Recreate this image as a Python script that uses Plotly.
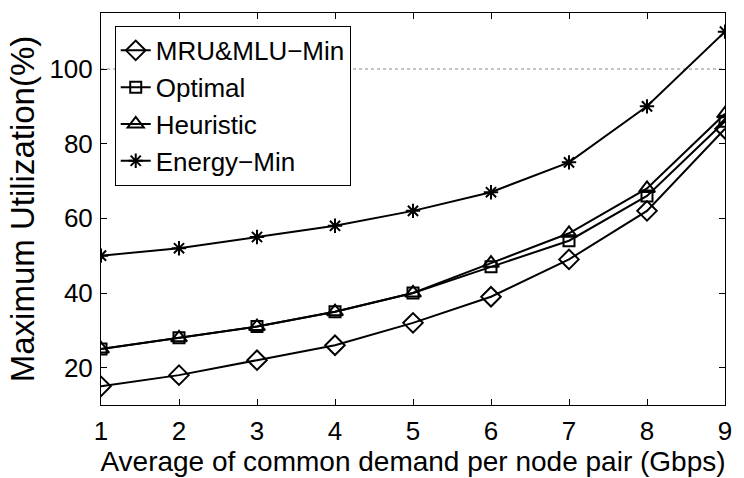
import plotly.graph_objects as go

demand = [1, 2, 3, 4, 5, 6, 7, 8, 9]
mru_mlu_min = [15, 18, 22, 26, 32, 39, 49, 62, 84]
optimal = [25, 28, 31, 35, 40, 47, 54, 66, 86]
heuristic = [25, 28, 31, 35, 40, 48, 56, 68, 88]
energy_min = [50, 52, 55, 58, 62, 67, 75, 90, 110]
ref_level = 100
y_ticks = [20, 40, 60, 80, 100]

FONT = "Liberation Sans, Arial, sans-serif"

fig = go.Figure()

fig.add_trace(go.Scatter(
    x=[demand[0], demand[-1]], y=[ref_level, ref_level], mode="lines",
    line=dict(color="#888888", width=1, dash="dot"), showlegend=False, hoverinfo="skip"))

series = [
    ("MRU&MLU\u2212Min", mru_mlu_min, "diamond-open", 15),
    ("Optimal", optimal, "square-open", 11),
    ("Heuristic", heuristic, "triangle-up-open", 14),
    ("Energy\u2212Min", energy_min, "asterisk-open", 12),
]
for name, vals, sym, sz in series:
    fig.add_trace(go.Scatter(
        x=demand, y=vals, mode="lines+markers", name=name,
        line=dict(color="black", width=2),
        marker=dict(symbol=sym, size=sz, color="black", line=dict(color="black", width=2))))

axis_common = dict(
    showgrid=False, zeroline=False, showline=True, linecolor="black", linewidth=1,
    mirror="ticks", ticks="inside", ticklen=6, tickcolor="black",
    tickfont=dict(family=FONT, size=26, color="black"))

fig.update_xaxes(range=[1, 9], tickvals=demand, **axis_common, ticklabelstandoff=3,
                 title=dict(text="Average of common demand per node pair (Gbps)",
                            font=dict(family=FONT, size=28, color="black"), standoff=0))
fig.update_yaxes(range=[10, 115], tickvals=y_ticks, **axis_common, ticklabelstandoff=2,
                 title=dict(text="Maximum Utilization(%)",
                            font=dict(family=FONT, size=33, color="black"), standoff=4))

fig.update_layout(
    width=744, height=478,
    margin=dict(l=101, r=12, t=12, b=65),
    paper_bgcolor="white", plot_bgcolor="white",
    font=dict(family=FONT, color="black"),
    legend=dict(x=0.022, y=0.967, xanchor="left", yanchor="top",
                bgcolor="white", bordercolor="black", borderwidth=1,
                font=dict(family=FONT, size=26, color="black"),
                itemwidth=30, tracegroupgap=0),
)

fig.write_html("out.html")
